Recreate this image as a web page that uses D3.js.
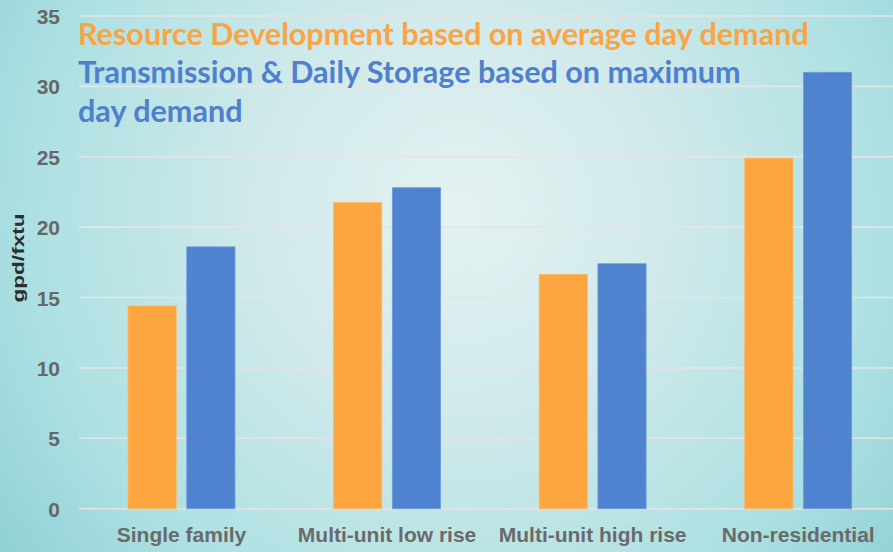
<!DOCTYPE html>
<html>
<head>
<meta charset="utf-8">
<script src="https://cdn.jsdelivr.net/npm/d3@7/dist/d3.min.js"></script>
<style>
  html, body { margin: 0; padding: 0; background: #ffffff; }
  svg { display: block; }
</style>
</head>
<body>
<svg id="chart" width="893" height="552"></svg>
<script>
// ---- data ----
const categories = ["Single family", "Multi-unit low rise", "Multi-unit high rise", "Non-residential"];
const seriesNames = ["Resource Development", "Transmission & Daily Storage"];
const resourceDev = [14.4, 21.75, 16.65, 24.9];
const transmission = [18.6, 22.8, 17.4, 31.0];
const yTicks = [0, 5, 10, 15, 20, 25, 30, 35];
const titleLines = [
  { text: "Resource Development based on average day demand", series: 0 },
  { text: "Transmission & Daily Storage based on maximum", series: 1 },
  { text: "day demand", series: 1 }
];
const yLabel = "gpd/fxtu";

const colors = ["#fda63f", "#5083cf"];
const textColors = ["#fba443", "#4f80cf"];

const W = 893, H = 552;
const svg = d3.select("#chart");

// background gradient
const defs = svg.append("defs");
const rg = defs.append("radialGradient")
  .attr("id", "bg").attr("gradientUnits", "userSpaceOnUse")
  .attr("cx", 460).attr("cy", 210).attr("r", 620);
rg.append("stop").attr("offset", "0").attr("stop-color", "#e4f2f2");
rg.append("stop").attr("offset", "0.35").attr("stop-color", "#cfe9ea");
rg.append("stop").attr("offset", "0.7").attr("stop-color", "#ace0e2");
rg.append("stop").attr("offset", "1").attr("stop-color", "#86cbd1");
svg.append("rect").attr("width", W).attr("height", H).attr("fill", "url(#bg)");

// scales
const y = d3.scaleLinear().domain([0, 35]).range([508.7, 16]);
const x0 = d3.scaleBand().domain(categories).range([78.7, 901]).paddingInner(0).paddingOuter(0);
const bw = x0.bandwidth();
const x1 = d3.scaleBand().domain(seriesNames).range([bw * 0.24, bw * 0.76]).paddingInner(0.18).paddingOuter(0);

// gridlines
svg.append("g").selectAll("line").data(yTicks).join("line")
  .attr("x1", 79).attr("x2", W)
  .attr("y1", d => y(d)).attr("y2", d => y(d))
  .attr("stroke", "#e6e4e6").attr("stroke-width", 1.6);

// y axis tick labels
const yAxis = d3.axisLeft(y).tickValues(yTicks).tickSize(0).tickPadding(0);
const gy = svg.append("g").attr("transform", "translate(60,0)").call(yAxis);
gy.select(".domain").remove();
gy.selectAll("text")
  .attr("font-family", "'Liberation Sans', Arial, sans-serif")
  .attr("font-weight", "bold").attr("font-size", 21)
  .attr("fill", "#676767").attr("dy", "0.36em");

// bars
const data = categories.map((c, i) => ({ cat: c, vals: [resourceDev[i], transmission[i]] }));
const groups = svg.append("g").selectAll("g").data(data).join("g")
  .attr("transform", d => `translate(${x0(d.cat)},0)`);
groups.selectAll("rect").data(d => d.vals.map((v, j) => ({ v, s: seriesNames[j], j })))
  .join("rect")
  .attr("x", d => x1(d.s))
  .attr("width", x1.bandwidth())
  .attr("y", d => y(d.v))
  .attr("height", d => y(0) - y(d.v))
  .attr("fill", d => colors[d.j])
  .attr("stroke", d => d.j === 0 ? "#ffb860" : "#6f98d8")
  .attr("stroke-width", 0.8);

// x axis labels
const xAxis = d3.axisBottom(x0).tickSize(0).tickPadding(0);
const gx = svg.append("g").attr("transform", "translate(0,541.5)").call(xAxis);
gx.select(".domain").remove();
gx.selectAll("text")
  .attr("font-family", "'Liberation Sans', Arial, sans-serif")
  .attr("font-weight", "bold").attr("font-size", 21)
  .attr("fill", "#6a6a6a").attr("dy", 0);

// y axis title
svg.append("text")
  .attr("transform", "translate(24,258) rotate(-90)")
  .attr("text-anchor", "middle")
  .attr("font-family", "'Liberation Sans', Arial, sans-serif")
  .attr("font-weight", "bold").attr("font-size", 16)
  .attr("textLength", 89).attr("lengthAdjust", "spacingAndGlyphs")
  .attr("fill", "#2e2e2e")
  .text(yLabel);

// title / legend text
const baselines = [45, 83.3, 121.5];
const titleG = svg.append("g");
const tt = titleG.selectAll("text").data(titleLines).join("text")
  .attr("x", 78)
  .attr("y", (d, i) => baselines[i])
  .attr("font-family", "Lato, 'Open Sans', sans-serif")
  .attr("font-weight", "bold")
  .attr("font-size", 27)
  .attr("fill", d => textColors[d.series])
  .text(d => d.text);
// fit first line width to ~731px
const w0 = tt.nodes()[0].getComputedTextLength();
const fs = 27 * 731 / w0;
tt.attr("font-size", fs);
</script>
</body>
</html>
